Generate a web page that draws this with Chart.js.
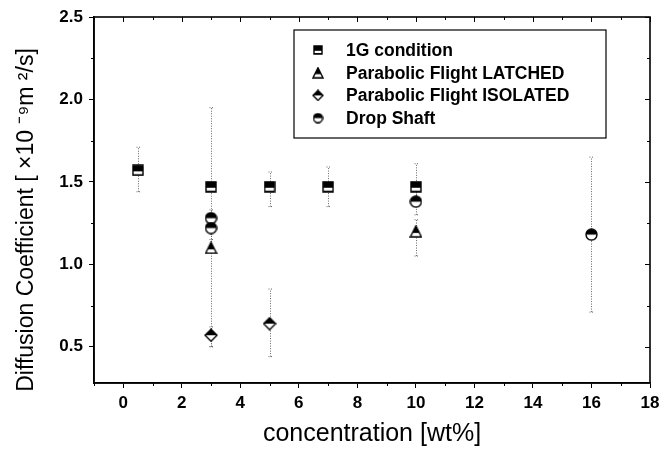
<!DOCTYPE html>
<html>
<head>
<meta charset="utf-8">
<script src="https://cdn.jsdelivr.net/npm/chart.js@4/dist/chart.umd.min.js"></script>
<style>
  html, body { margin: 0; padding: 0; background: #fff; }
  #wrap { width: 666px; height: 452px; }
</style>
</head>
<body>
<div id="wrap"><canvas id="c" width="666" height="452"></canvas></div>
<script>
// Diffusion coefficient vs. concentration, four measurement conditions,
// dotted vertical error bars drawn from the lo/hi arrays.

const xTickValues = [0, 2, 4, 6, 8, 10, 12, 14, 16, 18];
const yTickValues = [0.5, 1.0, 1.5, 2.0, 2.5];

const seriesNames = ['1G condition', 'Parabolic Flight LATCHED', 'Parabolic Flight ISOLATED', 'Drop Shaft'];
const yTitle = 'Diffusion Coefficient [ ×10 ⁻⁹m ²/s]';

const concSquare = [0.5, 3, 5, 7, 10];
const diffSquare = [1.57, 1.47, 1.47, 1.47, 1.47];
const loSquare   = [1.44, 1.47, 1.35, 1.35, 1.40];
const hiSquare   = [1.71, 1.47, 1.56, 1.59, 1.61];

const concLatched = [3, 10];
const diffLatched = [1.10, 1.20];
const loLatched   = [0.50, 1.05];
const hiLatched   = [1.95, 1.27];

const concIsolated = [3, 5];
const diffIsolated = [0.57, 0.64];
const loIsolated   = [0.50, 0.44];
const hiIsolated   = [0.62, 0.85];

const concDrop = [3, 3, 10, 16];
const diffDrop = [1.28, 1.22, 1.38, 1.18];
const loDrop   = [1.20, 1.15, 1.30, 0.71];
const hiDrop   = [1.33, 1.30, 1.45, 1.65];

const FONT = '"Liberation Sans", Arial, sans-serif';

// half-filled marker images (black top, white bottom)
function marker(shape, s) {
  const cv = document.createElement('canvas');
  cv.width = s; cv.height = s;
  const g = cv.getContext('2d');
  const h = s / 2, m = 1;
  g.lineWidth = 1.4;
  g.strokeStyle = '#000';
  function path() {
    g.beginPath();
    if (shape === 'square') g.rect(m, m, s - 2 * m, s - 2 * m);
    else if (shape === 'triangle') { g.moveTo(h, m); g.lineTo(s - m, s - m); g.lineTo(m, s - m); g.closePath(); }
    else if (shape === 'diamond') { g.moveTo(h, m); g.lineTo(s - m, h); g.lineTo(h, s - m); g.lineTo(m, h); g.closePath(); }
    else g.arc(h, h, h - m, 0, Math.PI * 2);
  }
  path();
  g.fillStyle = '#fff';
  g.fill();
  g.save();
  path();
  g.clip();
  g.fillStyle = '#000';
  g.fillRect(0, 0, s, shape === 'square' ? s * 0.58 : (shape === 'triangle' ? s * 0.62 : h));
  if (shape === 'square') g.fillRect(0, s * 0.82, s, s);
  g.restore();
  path();
  g.stroke();
  return cv;
}

const styles = [marker('square', 12), marker('triangle', 13), marker('diamond', 14), marker('circle', 13)];
const legendStyles = [marker('square', 10), marker('triangle', 12), marker('diamond', 12), marker('circle', 11)];

function pts(xs, ys) { return xs.map((x, i) => ({ x: x, y: ys[i] })); }

const errors = [[loSquare, hiSquare], [loLatched, hiLatched], [loIsolated, hiIsolated], [loDrop, hiDrop]];

const errorBars = {
  id: 'errorBars',
  beforeDatasetsDraw(chart) {
    const { ctx, scales: { x, y } } = chart;
    ctx.save();
    ctx.strokeStyle = '#666';
    ctx.lineWidth = 1;
    ctx.setLineDash([1, 1.5]);
    chart.data.datasets.forEach((ds, di) => {
      const [lo, hi] = errors[di];
      ds.data.forEach((p, i) => {
        if (lo[i] === hi[i]) return;
        const px = Math.round(x.getPixelForValue(p.x)) + 0.5;
        const y1 = y.getPixelForValue(lo[i]), y2 = y.getPixelForValue(hi[i]);
        ctx.beginPath();
        ctx.moveTo(px, y1); ctx.lineTo(px, y2);
        ctx.moveTo(px - 2, y1); ctx.lineTo(px + 2, y1);
        ctx.moveTo(px - 2, y2); ctx.lineTo(px + 2, y2);
        ctx.stroke();
      });
    });
    ctx.restore();
  }
};

const frame = {
  id: 'frame',
  afterDraw(chart) {
    const { ctx, chartArea: a, scales: { x, y } } = chart;
    ctx.save();
    ctx.strokeStyle = '#000';
    ctx.lineWidth = 1;
    ctx.beginPath();
    for (let v = -1; v <= 18; v += 1) {
      const px = Math.round(x.getPixelForValue(v)) + 0.5;
      const len = v % 2 === 0 ? 5 : 3;
      ctx.moveTo(px, a.top); ctx.lineTo(px, a.top + len);
      if (v % 2 !== 0) { ctx.moveTo(px, a.bottom); ctx.lineTo(px, a.bottom + 3); }
    }
    for (let v = 0.5; v <= 2.5001; v += 0.25) {
      const py = Math.round(y.getPixelForValue(v)) + 0.5;
      const major = Math.abs(v * 2 - Math.round(v * 2)) < 1e-6;
      ctx.moveTo(a.right, py); ctx.lineTo(a.right - (major ? 5 : 3), py);
      if (!major) { ctx.moveTo(a.left, py); ctx.lineTo(a.left - 3, py); }
    }
    ctx.stroke();
    ctx.lineWidth = 1.6;
    ctx.strokeRect(a.left, a.top, a.right - a.left, a.bottom - a.top);

    // y axis title
    ctx.save();
    ctx.translate(27, 220);
    ctx.rotate(-Math.PI / 2);
    ctx.fillStyle = '#000';
    ctx.font = '23px ' + FONT;
    ctx.textAlign = 'center';
    ctx.textBaseline = 'middle';
    ctx.fillText(yTitle, 0, 0);
    ctx.restore();

    // legend box
    const bx = 294, by = 30, bw = 312, bh = 108;
    ctx.lineWidth = 1.2;
    ctx.fillStyle = '#fff';
    ctx.fillRect(bx, by, bw, bh);
    ctx.strokeRect(bx, by, bw, bh);
    ctx.fillStyle = '#000';
    ctx.font = 'bold 17.5px ' + FONT;
    ctx.textBaseline = 'middle';
    ctx.textAlign = 'left';
    chart.data.datasets.forEach((ds, i) => {
      const ry = by + 20 + i * 22.7;
      const img = legendStyles[i];
      ctx.drawImage(img, 318 - img.width / 2, ry - img.height / 2);
      ctx.fillText(ds.label, 346, ry + 1);
    });
    ctx.restore();
  }
};

new Chart(document.getElementById('c'), {
  type: 'scatter',
  data: {
    datasets: [
      { label: seriesNames[0], data: pts(concSquare, diffSquare), pointStyle: styles[0] },
      { label: seriesNames[1], data: pts(concLatched, diffLatched), pointStyle: styles[1] },
      { label: seriesNames[2], data: pts(concIsolated, diffIsolated), pointStyle: styles[2] },
      { label: seriesNames[3], data: pts(concDrop, diffDrop), pointStyle: styles[3] }
    ]
  },
  options: {
    responsive: false,
    animation: false,
    devicePixelRatio: 1,
    layout: { padding: { left: 10, top: 17, right: 16, bottom: 3 } },
    plugins: { legend: { display: false }, tooltip: { enabled: false } },
    scales: {
      x: {
        type: 'linear',
        min: -1,
        max: 18,
        afterBuildTicks: s => { s.ticks = xTickValues.map(v => ({ value: v })); },
        afterFit: s => { s.height = 452 - 383 - 3; },
        ticks: { color: '#000', font: { size: 17, family: FONT, weight: 'bold' }, padding: 5 },
        grid: { drawOnChartArea: false, drawTicks: true, tickLength: 5, color: '#000' },
        border: { color: '#000', width: 1.6 },
        title: { display: true, text: 'concentration [wt%]', color: '#000', padding: { top: 2, bottom: 0 },
                 font: { size: 25, family: FONT } }
      },
      y: {
        type: 'linear',
        min: 0.28,
        max: 2.5,
        afterBuildTicks: s => { s.ticks = yTickValues.map(v => ({ value: v })); },
        afterFit: s => { s.width = 94 - 10; },
        ticks: { color: '#000', font: { size: 17, family: FONT, weight: 'bold' }, padding: 6,
                 callback: v => v.toFixed(1) },
        grid: { drawOnChartArea: false, drawTicks: true, tickLength: 5, color: '#000' },
        border: { color: '#000', width: 1.6 },
        title: { display: false }
      }
    }
  },
  plugins: [errorBars, frame]
});
</script>
</body>
</html>
